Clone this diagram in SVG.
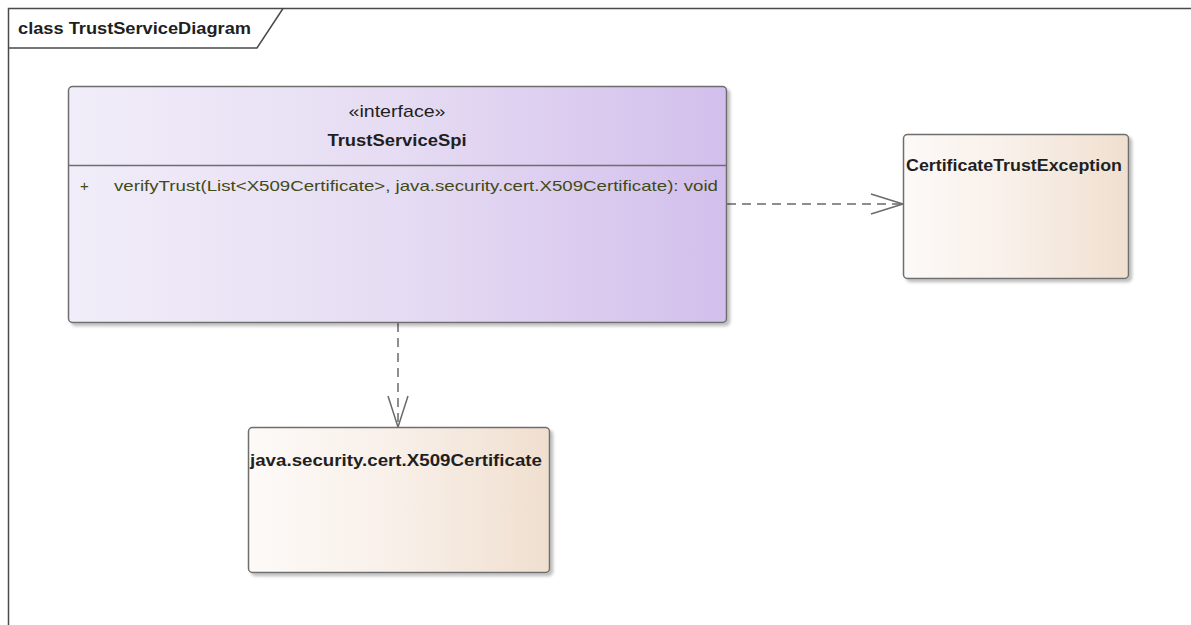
<svg xmlns="http://www.w3.org/2000/svg" width="1191" height="625" viewBox="0 0 1191 625">
<style>
.frame{fill:none;stroke:#4a4a4a;stroke-width:1.5}
.box{stroke:#6e6e6e;stroke-width:1.5}
.conn{fill:none;stroke:#6a6a6a;stroke-width:1.5;stroke-dasharray:9,6}
.head{fill:none;stroke:#6a6a6a;stroke-width:1.5}
.t{font-family:"Liberation Sans","Open Sans",sans-serif;fill:#1f1f1f}
.b{font-weight:bold}
.op{font-family:"Liberation Sans","Open Sans",sans-serif;fill:#3f4a18;font-size:15px}
</style>
<defs>
<linearGradient id="gI" x1="0" y1="0" x2="1" y2="0">
<stop offset="0" stop-color="#f1edf9"/>
<stop offset="0.5" stop-color="#e6dcf3"/>
<stop offset="1" stop-color="#d2bfec"/>
</linearGradient>
<linearGradient id="gC" x1="0" y1="0" x2="1" y2="0">
<stop offset="0" stop-color="#fdfaf8"/>
<stop offset="0.5" stop-color="#f8efe8"/>
<stop offset="1" stop-color="#f0dfcf"/>
</linearGradient>
<filter id="sh" x="-5%" y="-5%" width="115%" height="115%">
<feDropShadow dx="3" dy="3" stdDeviation="1.5" flood-color="#000" flood-opacity="0.25"/>
</filter>
</defs>
<rect width="1191" height="625" fill="#fff"/>
<g id="frame">
<path class="frame" d="M8.5 625 V8.5 H1191"/>
<path class="frame" d="M8.5 48 H257 L283 8.5"/>
<text class="t b" x="18" y="34" font-size="17" textLength="233" lengthAdjust="spacingAndGlyphs">class TrustServiceDiagram</text>
</g>
<g id="connectors">
<path class="conn" d="M727 204 H902"/>
<path class="head" d="M871 194 L903 204 L871 214"/>
<path class="conn" d="M398 323 V426"/>
<path class="head" d="M388 396 L398 427 L408 396"/>
</g>
<g id="TrustServiceSpi">
<rect class="box" x="68.5" y="86.5" width="658" height="236" rx="4" fill="url(#gI)" filter="url(#sh)"/>
<line class="box" x1="68.5" y1="165.5" x2="726.5" y2="165.5"/>
<text class="t" x="397" y="117" font-size="17" text-anchor="middle" textLength="97" lengthAdjust="spacingAndGlyphs">«interface»</text>
<text class="t b" x="397" y="146" font-size="17" text-anchor="middle" textLength="139" lengthAdjust="spacingAndGlyphs">TrustServiceSpi</text>
<text class="op" x="80" y="191">+</text>
<text class="op" x="114" y="191" textLength="604" lengthAdjust="spacingAndGlyphs">verifyTrust(List&lt;X509Certificate&gt;, java.security.cert.X509Certificate): void</text>
</g>
<g id="CertificateTrustException">
<rect class="box" x="903.5" y="134.5" width="225" height="144" rx="4" fill="url(#gC)" filter="url(#sh)"/>
<text class="t b" x="906" y="171" font-size="17" textLength="216" lengthAdjust="spacingAndGlyphs">CertificateTrustException</text>
</g>
<g id="X509Certificate">
<rect class="box" x="248.5" y="427.5" width="301" height="145" rx="4" fill="url(#gC)" filter="url(#sh)"/>
<text class="t b" x="250" y="466" font-size="17" textLength="292" lengthAdjust="spacingAndGlyphs">java.security.cert.X509Certificate</text>
</g>
</svg>
